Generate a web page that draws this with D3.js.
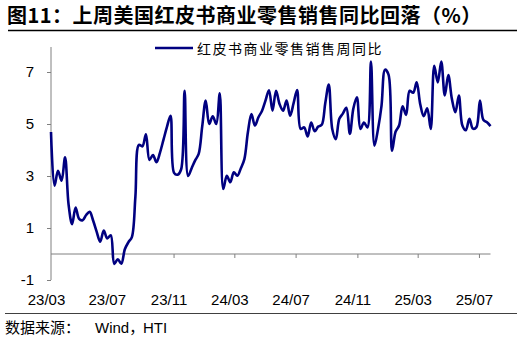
<!DOCTYPE html>
<html>
<head>
<meta charset="utf-8">
<script src="https://cdn.jsdelivr.net/npm/d3@7/dist/d3.min.js"></script>
<style>
  html, body { margin: 0; padding: 0; background: #fff; }
  svg { display: block; }
</style>
</head>
<body>
<svg id="chart" width="532" height="341"></svg>
<script>
// ---- data ----
const title = "图11：上周美国红皮书商业零售销售同比回落（%）";
const seriesName = "红皮书商业零售销售周同比";
const firstWeek = "2023-03-04"; // weekly observations, one per week from here
const values = [
  4.69, 2.63, 3.2, 2.82, 3.72, 1.9, 1.15, 1.79, 1.35, 1.3,
  1.5, 1.62, 1.28, 0.85, 0.47, 0.9, 0.6, 0.72, -0.38, -0.2,
  -0.37, 0.18, 0.45, 0.65, 2.2, 4.2, 4.14, 4.6, 3.62, 3.81,
  3.53, 3.9, 4.4, 4.9, 5.32, 3.12, 3.05, 3.25, 6.28, 3.0,
  3.3, 3.6, 3.85, 4.9, 5.9, 5.0, 5.3, 5.0, 6.18, 2.5,
  3.01, 2.76, 3.14, 3.01, 3.3, 3.65, 4.68, 5.38, 4.94, 5.26,
  5.5, 5.9, 6.3, 5.51, 6.28, 5.77, 5.51, 5.9, 5.32, 5.8,
  6.31, 4.81, 4.87, 4.52, 5.06, 4.72, 4.9, 4.97, 5.8, 6.52,
  4.8, 4.42, 5.2, 5.4, 5.62, 4.62, 5.6, 6.03, 4.81, 5.06,
  4.87, 7.4, 4.17, 4.8, 5.7, 7.09, 6.9, 3.97, 4.7, 4.94,
  5.68, 5.35, 6.28, 6.2, 6.6, 5.77, 5.3, 5.6, 4.81, 7.24,
  6.6, 7.4, 6.1, 6.88, 5.98, 5.45, 6.09, 4.94, 4.76, 5.2,
  4.82, 4.88, 5.9, 5.15, 5.07, 4.92
];
const xTickDates = ["2023-03-01", "2023-07-01", "2023-11-01", "2024-03-01",
                    "2024-07-01", "2024-11-01", "2025-03-01", "2025-07-01"];
const xTickLabels = ["23/03", "23/07", "23/11", "24/03", "24/07", "24/11", "25/03", "25/07"];
const yTicks = [-1, 1, 3, 5, 7];
const yDomain = [-1, 8];

// ---- build ----
const parse = d3.utcParse("%Y-%m-%d");
const start = parse(firstWeek);
const data = values.map((v, i) => ({ date: d3.utcDay.offset(start, 7 * i), value: v }));

const svg = d3.select("#chart");
const navy = "#000080";
const latin = "'Liberation Sans', Arial, sans-serif";
const cjk = "'Noto Sans CJK SC', sans-serif";

const plot = { left: 51, right: 490.5, top: 46, bottom: 280 };

const x = d3.scaleUtc()
  .domain([data[0].date, data[data.length - 1].date])
  .range([plot.left, plot.right]);
const y = d3.scaleLinear().domain(yDomain).range([plot.bottom, plot.top]);

svg.append("rect").attr("width", 532).attr("height", 341).attr("fill", "#fff");

// title
svg.append("text")
  .attr("x", 7).attr("y", 23)
  .attr("font-family", cjk).attr("font-weight", "bold").attr("font-size", 20)
  .attr("letter-spacing", 0.5)
  .attr("fill", "#000")
  .text(title);
svg.append("line")
  .attr("x1", 8).attr("x2", 517).attr("y1", 30.5).attr("y2", 30.5)
  .attr("stroke", "#000").attr("stroke-width", 1.5);

// legend
svg.append("line")
  .attr("x1", 155).attr("x2", 193).attr("y1", 48).attr("y2", 48)
  .attr("stroke", navy).attr("stroke-width", 2.5);
svg.append("text")
  .attr("x", 197).attr("y", 53.5)
  .attr("font-family", cjk).attr("font-size", 14).attr("letter-spacing", 1.5)
  .attr("fill", "#000")
  .text(seriesName);

// y axis
const yAxis = d3.axisLeft(y).tickValues(yTicks).tickSize(4).tickPadding(13).tickFormat(d => String(d));
const gy = svg.append("g").attr("transform", `translate(${plot.left},0)`).call(yAxis);
gy.select(".domain").remove();
gy.append("line")
  .attr("x1", 0).attr("x2", 0).attr("y1", plot.top + 1).attr("y2", plot.bottom)
  .attr("stroke", "#808080");
gy.selectAll(".tick line").attr("stroke", "#808080");
gy.selectAll(".tick text")
  .attr("font-family", latin).attr("font-size", 15).attr("fill", "#000");

// x axis at zero
const tickDates = xTickDates.map(parse);
const zeroY = y(0);
const gx = svg.append("g").attr("transform", `translate(0,${zeroY})`);
gx.append("line")
  .attr("x1", plot.left).attr("x2", plot.right).attr("y1", 0).attr("y2", 0)
  .attr("stroke", "#808080");
gx.selectAll("line.tk")
  .data(tickDates.filter(d => x(d) > plot.left + 2))
  .join("line").attr("class", "tk")
  .attr("x1", d => x(d) + 1.5).attr("x2", d => x(d) + 1.5)
  .attr("y1", 0).attr("y2", 4)
  .attr("stroke", "#808080");

svg.append("g").selectAll("text")
  .data(tickDates)
  .join("text")
  .attr("x", d => Math.max(x(d), 50) - 3.5)
  .attr("y", 305)
  .attr("text-anchor", "middle")
  .attr("font-family", latin).attr("font-size", 15).attr("fill", "#000")
  .text((d, i) => xTickLabels[i]);

// line
const line = d3.line()
  .x(d => x(d.date))
  .y(d => y(d.value))
  .curve(d3.curveCatmullRom.alpha(0.5));
svg.append("path")
  .datum(data)
  .attr("d", line)
  .attr("fill", "none")
  .attr("stroke", navy)
  .attr("stroke-width", 2.6)
  .attr("stroke-linejoin", "round");

// footer
svg.append("line")
  .attr("x1", 5).attr("x2", 517).attr("y1", 313.5).attr("y2", 313.5)
  .attr("stroke", "#404040").attr("stroke-width", 1);
const src = svg.append("text")
  .attr("y", 333)
  .attr("font-family", cjk).attr("font-size", 15).attr("fill", "#000");
src.append("tspan").attr("x", 5).text("数据来源：");
src.append("tspan").attr("x", 95).attr("font-family", latin).text("Wind");
src.append("tspan").text("，");
src.append("tspan").attr("x", 143).attr("font-family", latin).text("HTI");
</script>
</body>
</html>
